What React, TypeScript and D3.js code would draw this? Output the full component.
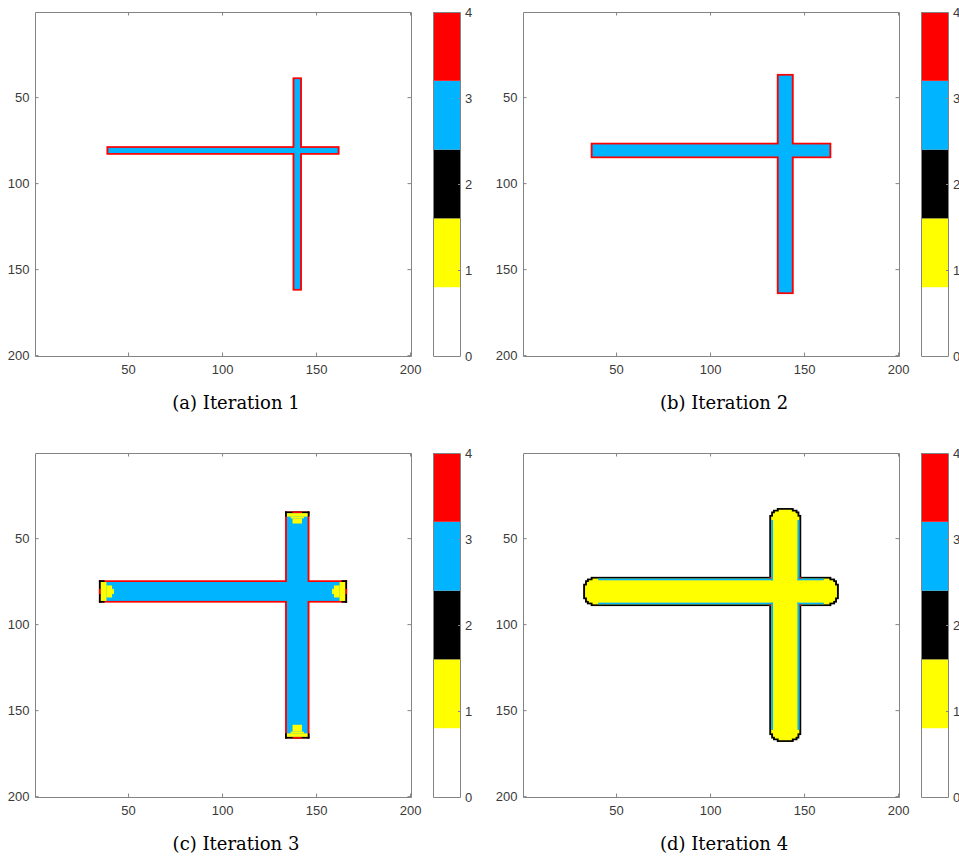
import React, { useEffect, useRef } from "react";
import * as d3 from "d3";

// [class value, first column, last column, first row, last row] — grid cells, painted in order
type Cell = [number, number, number, number, number];

const CAPTIONS = ["(a) Iteration 1", "(b) Iteration 2", "(c) Iteration 3", "(d) Iteration 4"];
const CLASS_VALUES = [0, 1, 2, 3, 4];
const CLASS_COLORS = ["#ffffff", "#ffff00", "#000000", "#00b4ff", "#ff0000"];
const AXIS_TICKS = [50, 100, 150, 200];
const COLORBAR_TICKS = [0, 1, 2, 3, 4];
const GRID_SIZE = 200;

const ITERATION_1: Cell[] = [
  [4, 39, 162, 79, 83], [4, 138, 142, 39, 162],
  [3, 40, 161, 80, 82], [3, 139, 141, 40, 161],
];

const ITERATION_2: Cell[] = [
  [4, 37, 164, 77, 85], [4, 136, 144, 37, 164],
  [3, 38, 163, 78, 84], [3, 137, 143, 38, 163],
];

const ITERATION_3: Cell[] = [
  [4, 35, 166, 75, 87], [4, 134, 146, 35, 166],
  [3, 36, 165, 76, 86], [3, 135, 145, 36, 165],
  [2, 35, 35, 75, 87], [2, 166, 166, 75, 87], [2, 134, 146, 35, 35], [2, 134, 146, 166, 166],
  [4, 35, 35, 80, 82], [4, 166, 166, 80, 82], [4, 138, 142, 35, 35], [4, 138, 142, 166, 166],
  [2, 35, 37, 75, 75], [2, 35, 37, 87, 87], [2, 164, 166, 75, 75], [2, 164, 166, 87, 87],
  [2, 134, 134, 35, 37], [2, 146, 146, 35, 37], [2, 134, 134, 164, 166], [2, 146, 146, 164, 166],
  [1, 36, 38, 76, 86], [1, 39, 41, 78, 84], [1, 42, 42, 80, 82],
  [1, 163, 165, 76, 86], [1, 160, 162, 78, 84], [1, 159, 159, 80, 82],
  [1, 135, 145, 36, 37], [1, 137, 143, 38, 38], [1, 138, 142, 39, 41],
  [1, 135, 145, 164, 165], [1, 137, 143, 163, 163], [1, 138, 142, 159, 162],
];

const ITERATION_4: Cell[] = [
  [2, 37, 164, 73, 89], [2, 35, 166, 74, 88], [2, 34, 167, 75, 87], [2, 33, 168, 77, 85],
  [2, 132, 148, 37, 164], [2, 133, 147, 35, 166], [2, 134, 146, 34, 167], [2, 136, 144, 33, 168],
  [1, 38, 163, 74, 88], [1, 36, 165, 75, 87], [1, 35, 166, 76, 86], [1, 34, 167, 78, 84],
  [1, 133, 147, 38, 163], [1, 134, 146, 36, 165], [1, 135, 145, 35, 166], [1, 137, 143, 34, 167],
  [3, 41, 133, 74, 74], [3, 147, 160, 74, 74], [3, 41, 133, 88, 88], [3, 147, 160, 88, 88],
  [3, 133, 133, 40, 74], [3, 147, 147, 40, 74], [3, 133, 133, 88, 161], [3, 147, 147, 88, 161],
  [4, 132, 132, 73, 73], [4, 148, 148, 73, 73], [4, 132, 132, 89, 89], [4, 148, 148, 89, 89],
];

const ITERATIONS = [ITERATION_1, ITERATION_2, ITERATION_3, ITERATION_4];

// layout
const AX_L = 35;
const AX_T = 12;
const AX_W = 376;
const AX_H = 344;
const CB_L = 433;
const CB_W = 27;
const PANEL_DX = 488;
const PANEL_DY = 441;
const AXIS_COLOR = "#848484";
const LABEL_COLOR = "#3a3a3a";
const TICK_FONT = "'Liberation Sans', Arial, Helvetica, sans-serif";

function Panel({ cells, caption, dx, dy }: { cells: Cell[]; caption: string; dx: number; dy: number }) {
  const axRef = useRef<SVGGElement>(null);
  const cbRef = useRef<SVGGElement>(null);
  const x = d3.scaleLinear().domain([0.5, GRID_SIZE + 0.5]).range([0, AX_W]);
  const y = d3.scaleLinear().domain([0.5, GRID_SIZE + 0.5]).range([0, AX_H]);
  const cb = d3.scaleLinear().domain([0, 4]).range([AX_H, 0]);
  const color = d3.scaleOrdinal<number, string>().domain(CLASS_VALUES).range(CLASS_COLORS);
  const bandStep = 4 / CLASS_VALUES.length;

  useEffect(() => {
    const g = d3.select(axRef.current!);
    g.selectAll("*").remove();
    const style = (sel: any) => {
      sel.select(".domain").attr("stroke", AXIS_COLOR).attr("stroke-width", 1);
      sel.selectAll(".tick line").attr("stroke", AXIS_COLOR);
      sel.selectAll(".tick text")
        .attr("fill", LABEL_COLOR)
        .style("font-family", TICK_FONT)
        .style("font-size", "13px");
      sel.attr("font-family", null).attr("font-size", null);
    };
    g.append("g").attr("transform", `translate(0,${AX_H})`)
      .call(d3.axisBottom(x).tickValues(AXIS_TICKS).tickSize(-3.5).tickSizeOuter(0).tickPadding(9))
      .call(style);
    g.append("g")
      .call(d3.axisTop(x).tickValues(AXIS_TICKS).tickSize(-3.5).tickSizeOuter(0).tickFormat(() => ""))
      .call(style);
    g.append("g")
      .call(d3.axisLeft(y).tickValues(AXIS_TICKS).tickSize(-3.5).tickSizeOuter(0).tickPadding(5.5))
      .call(style);
    g.append("g").attr("transform", `translate(${AX_W},0)`)
      .call(d3.axisRight(y).tickValues(AXIS_TICKS).tickSize(-3.5).tickSizeOuter(0).tickFormat(() => ""))
      .call(style);

    const c = d3.select(cbRef.current!);
    c.selectAll("*").remove();
    c.append("g").attr("transform", `translate(${CB_W},0)`)
      .call(d3.axisRight(cb).tickValues(COLORBAR_TICKS).tickSize(-2).tickSizeOuter(0).tickPadding(5).tickFormat(d3.format("d")))
      .call(style);
    c.append("g")
      .call(d3.axisLeft(cb).tickValues(COLORBAR_TICKS).tickSize(0).tickSizeOuter(0).tickFormat(() => ""))
      .call(style);
    c.append("g")
      .call(d3.axisTop(d3.scaleLinear().domain([0, 1]).range([0, CB_W])).tickValues([]).tickSizeOuter(0))
      .call(style);
    c.append("g").attr("transform", `translate(0,${AX_H})`)
      .call(d3.axisBottom(d3.scaleLinear().domain([0, 1]).range([0, CB_W])).tickValues([]).tickSizeOuter(0))
      .call(style);
  }, []);

  return (
    <g transform={`translate(${dx},${dy})`}>
      <g transform={`translate(${AX_L},${AX_T})`}>
        <rect x={0} y={0} width={AX_W} height={AX_H} fill={color(0)} />
        {cells.map((d, i) => (
          <rect
            key={i}
            x={x(d[1] - 0.5)}
            y={y(d[3] - 0.5)}
            width={x(d[2] + 0.5) - x(d[1] - 0.5)}
            height={y(d[4] + 0.5) - y(d[3] - 0.5)}
            fill={color(d[0])}
          />
        ))}
        <g ref={axRef} />
      </g>
      <g transform={`translate(${CB_L},${AX_T})`}>
        {CLASS_VALUES.map((v, i) => (
          <rect
            key={v}
            x={0}
            y={cb((i + 1) * bandStep)}
            width={CB_W}
            height={cb(i * bandStep) - cb((i + 1) * bandStep)}
            fill={color(v)}
          />
        ))}
        <g ref={cbRef} />
      </g>
      <text
        x={236}
        y={409}
        textAnchor="middle"
        fontFamily="'DejaVu Serif', serif"
        fontSize={18}
        fill="#000"
      >
        {caption}
      </text>
    </g>
  );
}

export default function App() {
  return (
    <svg
      width={959}
      height={856}
      style={{ position: "absolute", left: 0, top: 0, display: "block", background: "#fff" }}
    >
      <rect x={0} y={0} width={959} height={856} fill="#fff" />
      {ITERATIONS.map((cells, i) => (
        <Panel
          key={i}
          cells={cells}
          caption={CAPTIONS[i]}
          dx={(i % 2) * PANEL_DX}
          dy={Math.floor(i / 2) * PANEL_DY}
        />
      ))}
    </svg>
  );
}
